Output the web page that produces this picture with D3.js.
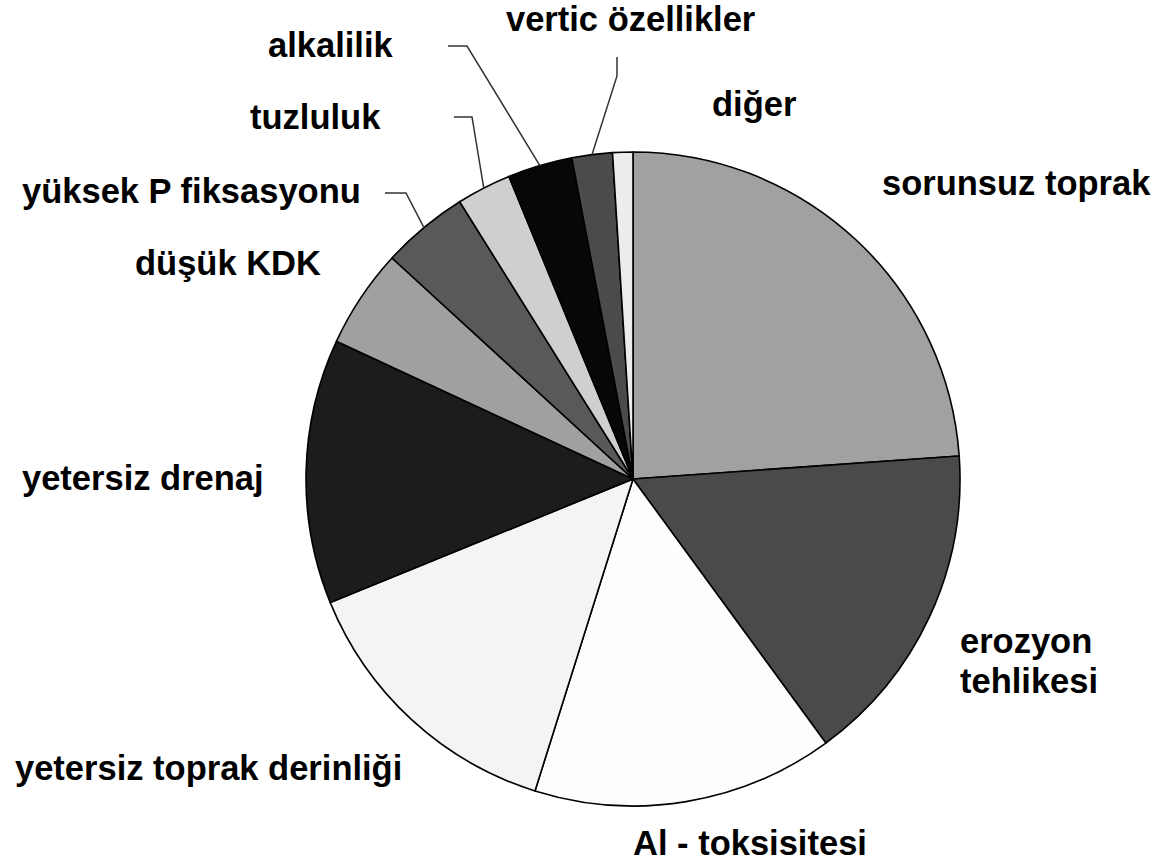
<!DOCTYPE html>
<html>
<head>
<meta charset="utf-8">
<script src="https://cdn.jsdelivr.net/npm/d3@7"></script>
<style>
  body { margin: 0; background: #fff; }
  text { font-family: "Liberation Sans", Arial, sans-serif; font-weight: bold; fill: #000; }
</style>
</head>
<body>
<div id="chart"></div>
<script>
// categories and shares (%), clockwise from 12 o'clock
var categories = ["sorunsuz toprak", "erozyon tehlikesi", "Al - toksisitesi",
  "yetersiz toprak derinliği", "yetersiz drenaj", "düşük KDK",
  "yüksek P fiksasyonu", "tuzluluk", "alkalilik", "vertic özellikler", "diğer"];
var shares = [23.9, 16.1, 14.9, 14.0, 13.1, 4.9, 4.3, 2.7, 3.2, 2.0, 1.0];
var greys = ["#a1a1a1", "#4a4a4a", "#fdfdfd", "#f4f4f4", "#1c1c1c", "#a0a0a0",
  "#595959", "#cfcfcf", "#070707", "#4b4b4b", "#ececec"];

// label layout (left x, baseline y of each line)
var labelPos = [
  {x: 882, y: [195]},
  {x: 960, y: [653, 693]},
  {x: 633, y: [855]},
  {x: 15, y: [780]},
  {x: 22, y: [490]},
  {x: 135, y: [275]},
  {x: 22, y: [203]},
  {x: 250, y: [129]},
  {x: 268, y: [57]},
  {x: 506, y: [31]},
  {x: 712, y: [116]}
];
var labelLines = [null, ["erozyon", "tehlikesi"], null, null, null, null, null, null, null, null, null];

// leader lines: start and elbow points, end on the slice's rim
var leaders = {
  6: [[385, 193], [406, 193]],
  7: [[454, 117], [472, 117]],
  8: [[448, 46], [467, 46]],
  9: [[617, 57], [617, 76]]
};

var width = 1157, height = 862;
var cx = 633, cy = 479, radius = 327;

var svg = d3.select("#chart").append("svg")
  .attr("width", width)
  .attr("height", height);

var pie = d3.pie().sort(null).value(function(d) { return d; });
var arcs = pie(shares);

var arc = d3.arc().innerRadius(0).outerRadius(radius);
var rim = d3.arc().innerRadius(radius).outerRadius(radius);

var g = svg.append("g").attr("transform", "translate(" + cx + "," + cy + ")");

g.selectAll("path.slice")
  .data(arcs)
  .enter()
  .append("path")
  .attr("class", "slice")
  .attr("d", arc)
  .attr("fill", function(d, i) { return greys[i]; })
  .attr("stroke", "#000")
  .attr("stroke-width", 1.6)
  .attr("stroke-linejoin", "round");

// leader lines
var line = d3.line();
Object.keys(leaders).forEach(function(k) {
  var pts = leaders[k].map(function(p) { return [p[0] - cx, p[1] - cy]; });
  pts.push(rim.centroid(arcs[+k]));
  g.append("path")
    .attr("d", line(pts))
    .attr("fill", "none")
    .attr("stroke", "#333")
    .attr("stroke-width", 1.5);
});

// labels
categories.forEach(function(c, i) {
  var lines = labelLines[i] || [c];
  var t = svg.append("text")
    .attr("font-size", 34.5);
  lines.forEach(function(s, j) {
    t.append("tspan")
      .attr("x", labelPos[i].x)
      .attr("y", labelPos[i].y[j])
      .text(s);
  });
});
</script>
</body>
</html>
